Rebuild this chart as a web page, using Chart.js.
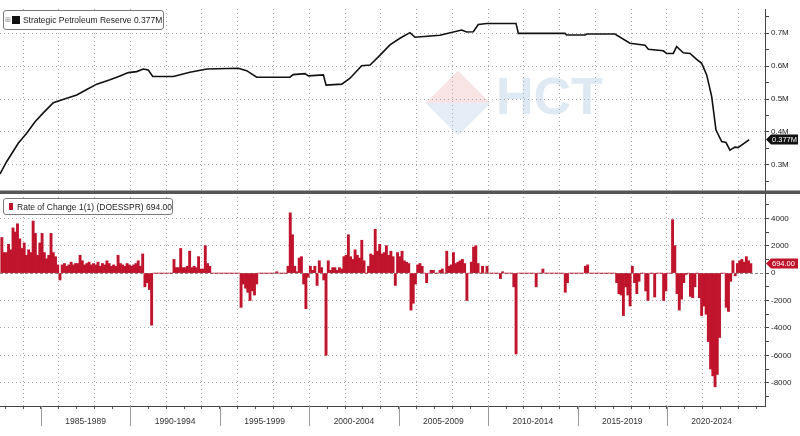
<!DOCTYPE html>
<html>
<head>
<meta charset="utf-8">
<script src="https://cdn.jsdelivr.net/npm/chart.js@4.4.1/dist/chart.umd.min.js"></script>
<style>
  html, body { margin: 0; padding: 0; background: #fff; }
  #wrap { position: relative; width: 800px; height: 436px; overflow: hidden; }
  #chart { position: absolute; left: 0; top: 0; z-index: 1; }
  .legend {
    position: absolute; z-index: 2; box-sizing: border-box;
    background: #fff; border: 1px solid #7a7a7a; border-radius: 3px;
    font: 8.5px "Liberation Sans", Arial, sans-serif; color: #222;
    white-space: nowrap; display: flex; align-items: center;
  }
  .sw { display: inline-block; }
  .wm-diamond {
    position: absolute; z-index: 0; left: 435px; top: 80px; width: 46px; height: 46px;
    transform: rotate(45deg);
    background: linear-gradient(135deg, rgba(232,160,160,0.28) 50%, rgba(160,188,222,0.28) 50%);
  }
  .wm-text {
    position: absolute; z-index: 0; left: 496px; top: 66px;
    font: bold 52px "Liberation Sans", Arial, sans-serif; color: rgba(170,196,226,0.38);
  }
</style>
</head>
<body>
<div id="wrap">
  <div class="wm-diamond"></div>
  <div class="wm-text">HCT</div>
  <canvas id="chart" width="800" height="436"></canvas>
  <div class="legend" style="left:3px; top:10px; width:161px; height:20px; padding-left:1px;">
    <span style="font:7px 'DejaVu Sans'; color:#888; margin-right:1px;">⊞</span>
    <span class="sw" style="background:#111; width:8px; height:8px; margin-right:3px;"></span>
    <span>Strategic Petroleum Reserve 0.377M</span>
  </div>
  <div class="legend" style="left:3px; top:198px; width:170px; height:17px; padding-left:5px;">
    <span class="sw" style="background:#c0142d; width:7px; height:7px; margin-right:4px;"></span>
    <span>Rate of Change 1(1) (DOESSPR) 694.00</span>
  </div>
</div>
<script>
// SPR level (millions of barrels shown as M of thousands)
const spYears = [1982.71, 1983.08, 1983.73, 1984.2, 1984.67, 1985.13, 1985.69, 1986.44, 1987.0, 1987.56,
  1988.12, 1988.86, 1989.42, 1989.88, 1990.35, 1990.72, 1991.0, 1991.25, 1992.4, 1993.33,
  1994.27, 1996.03, 1996.5, 1997.06, 1998.92, 1999.1, 1999.76, 1999.95, 2000.79, 2000.94,
  2001.82, 2002.28, 2002.93, 2003.4, 2003.96, 2004.51, 2005.07, 2005.63, 2005.91, 2007.3,
  2008.52, 2008.8, 2009.17, 2009.45, 2009.92, 2011.56, 2011.69, 2014.3, 2014.39, 2015.42,
  2015.51, 2017.09, 2017.93, 2018.77, 2018.96, 2019.79, 2019.98, 2020.35, 2020.54, 2020.91,
  2021.29, 2021.66, 2021.94, 2022.22, 2022.5, 2022.74, 2023.06, 2023.3, 2023.52, 2023.8,
  2023.99, 2024.6];
const spValues = [0.273, 0.310, 0.366, 0.396, 0.431, 0.458, 0.489, 0.502, 0.512, 0.529,
  0.545, 0.558, 0.570, 0.580, 0.583, 0.591, 0.588, 0.568, 0.568, 0.581,
  0.591, 0.593, 0.586, 0.566, 0.566, 0.574, 0.577, 0.570, 0.573, 0.542,
  0.545, 0.563, 0.601, 0.603, 0.633, 0.664, 0.684, 0.701, 0.687, 0.693,
  0.709, 0.703, 0.704, 0.726, 0.729, 0.729, 0.699, 0.699, 0.694, 0.694,
  0.697, 0.697, 0.669, 0.663, 0.651, 0.646, 0.638, 0.638, 0.659, 0.640,
  0.638, 0.620, 0.608, 0.573, 0.507, 0.406, 0.371, 0.368, 0.345, 0.354,
  0.353, 0.377];

// rate of change, one bar per 1/8 year starting 1982.75
const rocStart = 1982.75;
const rocStep = 0.125;
const rocValues = [
  2600, 1500,                                             // 1982
  1500, 2100, 1700, 3300, 3000, 3600, 2500, 1800,         // 1983
  2200, 1300, 1700, 1500, 3800, 2900, 1300, 2200,         // 1984
  2900, 1500, 1050, 1300, 2900, 1500, 1200, 600,          // 1985
  -500, 600, 700, 500, 600, 800, 600, 700,                // 1986
  700, 1300, 900, 600, 700, 800, 600, 700,                // 1987
  600, 800, 500, 700, 600, 900, 700, 500,                 // 1988
  600, 500, 1300, 700, 600, 500, 700, 600,                // 1989
  500, 600, 700, 900, 500, 1400, -1000, -700,             // 1990
  -1200, -3800, 0, 0, 0, 0, 0, 0,                         // 1991
  0, 0, 0, 1000, 400, 400, 1800, 400,                     // 1992
  400, 500, 1600, 400, 500, 400, 1200, 300,               // 1993
  300, 2000, 700, 500, 0, 0, 0, 0,                        // 1994
  0, 0, 0, 0, 0, 0, 0, 0,                                 // 1995
  0, -2500, -800, -1100, -1400, -2000, -1300, -1600,      // 1996
  -800, 0, 0, 0, 0, 0, 0, 0,                              // 1997
  0, 100, 0, 0, 0, 0, 500, 4400,                          // 1998
  2800, 500, 100, 1100, 1200, -800, -2600, -300,          // 1999
  500, 200, 500, -900, 900, 400, -500, -6000,             // 2000
  900, 200, 400, 400, 200, 400, 300, 1200,                // 2001
  1300, 2800, 1200, 1000, 1700, 1300, 1100, 2400,         // 2002
  900, 0, 500, 1400, 1300, 3200, 1600, 2100,              // 2003
  1400, 1500, 2000, 1300, 1600, 1200, -900, 1500,         // 2004
  1200, 1600, 900, 800, 700, -2700, -2200, -800,          // 2005
  600, 700, 500, 0, -700, 0, 200, 200,                    // 2006
  0, 0, 200, 300, 0, 1600, 500, 600,                      // 2007
  1500, 700, 800, 900, 1000, 700, -2000, 0,               // 2008
  800, 1900, 2000, 700, 0, 500, 0, 500,                   // 2009
  0, 0, 0, 0, 0, -400, 100, 0,                            // 2010
  0, 0, 0, -1000, -5900, 0, 0, 0,                         // 2011
  0, 0, 0, 0, 0, -1000, 0, 0,                             // 2012
  300, 0, 0, 0, 0, 0, 0, 0,                               // 2013
  0, 0, -1400, -700, 0, 0, 0, 0,                          // 2014
  0, 0, 0, 500, 600, 0, 0, 0,                             // 2015
  0, 0, 0, 0, 0, 0, 0, 0,                                 // 2016
  0, -700, -1500, -1600, -3100, -1000, -1600, -2400,      // 2017
  500, -700, -1500, -600, 0, 0, -1300, -2000,             // 2018
  0, 0, -1750, 0, 0, 0, -2000, -1300,                     // 2019
  0, 0, 3900, 2000, -1500, -2700, -1900, -700,            // 2020
  -100, 0, -1700, -1800, -1000, 0, -1800, -3100,          // 2021
  -2400, -3000, -5000, -7000, -7500, -8300, -7400, -4700, // 2022
  0, 0, -2500, -2800, -600, 900, -200, 700,               // 2023
  900, 1000, 800, 1200, 900, 694                          // 2024
];

const topTicks = [0.25, 0.3, 0.35, 0.4, 0.45, 0.5, 0.55, 0.6, 0.65, 0.7, 0.75];
const bottomTicks = [-9000, -8000, -7000, -6000, -5000, -4000, -3000, -2000, -1000, 0, 1000, 2000, 3000, 4000, 5000];
const periodStarts = [1985, 1990, 1995, 2000, 2005, 2010, 2015, 2020];
const periodLabels = ['1985-1989', '1990-1994', '1995-1999', '2000-2004', '2005-2009', '2010-2014', '2015-2019', '2020-2024'];
const lastLevel = 0.377;
const lastChange = 694;

const rocYears = rocValues.map((v, i) => rocStart + (i + 0.5) * rocStep);
const gridYears = [];
for (let y = 1983; y <= 2025; y++) gridYears.push(y);

const isMajorTop = v => Math.round(v * 100) % 10 === 0;
const isMajorBot = v => v % 2000 === 0;

const decor = {
  id: 'decor',
  afterDraw(chart) {
    const ctx = chart.ctx;
    const x = chart.scales.x;
    const yTop = chart.scales.yTop;
    const yBot = chart.scales.yBot;
    const base = chart.chartArea.bottom;
    ctx.save();

    // panel separator
    ctx.fillStyle = '#555';
    ctx.fillRect(0, yTop.bottom - 1.5, 800, 3.5);

    // period separators and labels under the x axis
    ctx.strokeStyle = '#999';
    ctx.lineWidth = 1;
    ctx.fillStyle = '#333';
    ctx.font = '8.5px "Liberation Sans", Arial, sans-serif';
    ctx.textAlign = 'center';
    ctx.textBaseline = 'middle';
    periodStarts.forEach((p, i) => {
      const px = Math.round(x.getPixelForValue(p)) + 0.5;
      ctx.beginPath();
      ctx.moveTo(px, base);
      ctx.lineTo(px, base + 20);
      ctx.stroke();
      const mid = x.getPixelForValue(p + 2.5);
      ctx.fillText(periodLabels[i], mid, base + 15.5);
    });

    // last value badges
    const badge = (yPix, color, text) => {
      const left = chart.chartArea.right + 1;
      ctx.beginPath();
      ctx.moveTo(left, yPix);
      ctx.lineTo(left + 5, yPix - 5);
      ctx.lineTo(798, yPix - 5);
      ctx.lineTo(798, yPix + 5);
      ctx.lineTo(left + 5, yPix + 5);
      ctx.closePath();
      ctx.fillStyle = color;
      ctx.fill();
      ctx.fillStyle = '#fff';
      ctx.font = '7.5px "Liberation Sans", Arial, sans-serif';
      ctx.textAlign = 'left';
      ctx.fillText(text, left + 6, yPix + 0.5);
    };
    badge(yTop.getPixelForValue(lastLevel), '#111', lastLevel.toFixed(3) + 'M');
    badge(yBot.getPixelForValue(lastChange), '#c0142d', lastChange.toFixed(2));
    ctx.restore();
  }
};

new Chart(document.getElementById('chart'), {
  type: 'line',
  data: {
    datasets: [
      {
        type: 'line',
        label: 'Strategic Petroleum Reserve',
        data: spYears.map((yr, i) => ({ x: yr, y: spValues[i] })),
        yAxisID: 'yTop',
        borderColor: '#111',
        borderWidth: 1.6,
        pointRadius: 0,
        tension: 0
      },
      {
        type: 'bar',
        label: 'Rate of Change 1(1) (DOESSPR)',
        data: rocYears.map((yr, i) => ({ x: yr, y: rocValues[i] })),
        yAxisID: 'yBot',
        backgroundColor: '#c0142d',
        borderWidth: 0,
        barPercentage: 1,
        categoryPercentage: 1
      }
    ]
  },
  options: {
    responsive: false,
    animation: false,
    layout: { padding: { top: 9, left: 0, right: 0, bottom: 0 } },
    plugins: { legend: { display: false }, tooltip: { enabled: false } },
    scales: {
      x: {
        type: 'linear',
        min: 1982.71,
        max: 2025.48,
        offset: false,
        afterBuildTicks: s => { s.ticks = gridYears.map(v => ({ value: v })); },
        afterFit: s => { s.height = 30; },
        ticks: { display: false, autoSkip: false },
        grid: {
          color: c => (c.tick && c.tick.value % 2 === 0) ? '#a8a8a8' : 'rgba(0,0,0,0)',
          drawTicks: true,
          tickLength: 3,
          tickColor: '#555',
          offset: false
        },
        border: { display: true, color: '#444', width: 1, dash: [1, 3] }
      },
      yTop: {
        type: 'linear',
        position: 'right',
        stack: 'panes',
        stackWeight: 183,
        min: 0.21818,
        max: 0.77273,
        afterBuildTicks: s => { s.ticks = topTicks.map(v => ({ value: v })); },
        afterFit: s => { s.width = 35; },
        ticks: {
          autoSkip: false,
          padding: 2,
          color: '#222',
          font: { family: '"Liberation Sans", Arial, sans-serif', size: 8 },
          callback: v => isMajorTop(v) ? v.toFixed(1) + 'M' : ''
        },
        grid: {
          color: c => (c.tick && isMajorTop(c.tick.value)) ? '#a8a8a8' : 'rgba(0,0,0,0)',
          tickLength: 4,
          tickColor: '#444'
        },
        border: { display: true, color: '#444', width: 1, dash: [1, 3] }
      },
      yBot: {
        type: 'linear',
        position: 'right',
        stack: 'panes',
        stackWeight: 214,
        min: -9700,
        max: 5920,
        afterBuildTicks: s => { s.ticks = bottomTicks.map(v => ({ value: v })); },
        afterFit: s => { s.width = 35; },
        ticks: {
          autoSkip: false,
          padding: 2,
          color: '#222',
          font: { family: '"Liberation Sans", Arial, sans-serif', size: 8 },
          callback: v => isMajorBot(v) ? String(v) : ''
        },
        grid: {
          color: c => {
            if (!c.tick) return 'rgba(0,0,0,0)';
            if (c.tick.value === 0) return '#8a8a8a';
            return isMajorBot(c.tick.value) ? '#a8a8a8' : 'rgba(0,0,0,0)';
          },
          tickLength: 4,
          tickColor: '#444'
        },
        border: { display: true, color: '#444', width: 1, dash: c => (c.tick && c.tick.value === 0) ? [3, 2] : [1, 3] }
      }
    }
  },
  plugins: [decor]
});
</script>
</body>
</html>
